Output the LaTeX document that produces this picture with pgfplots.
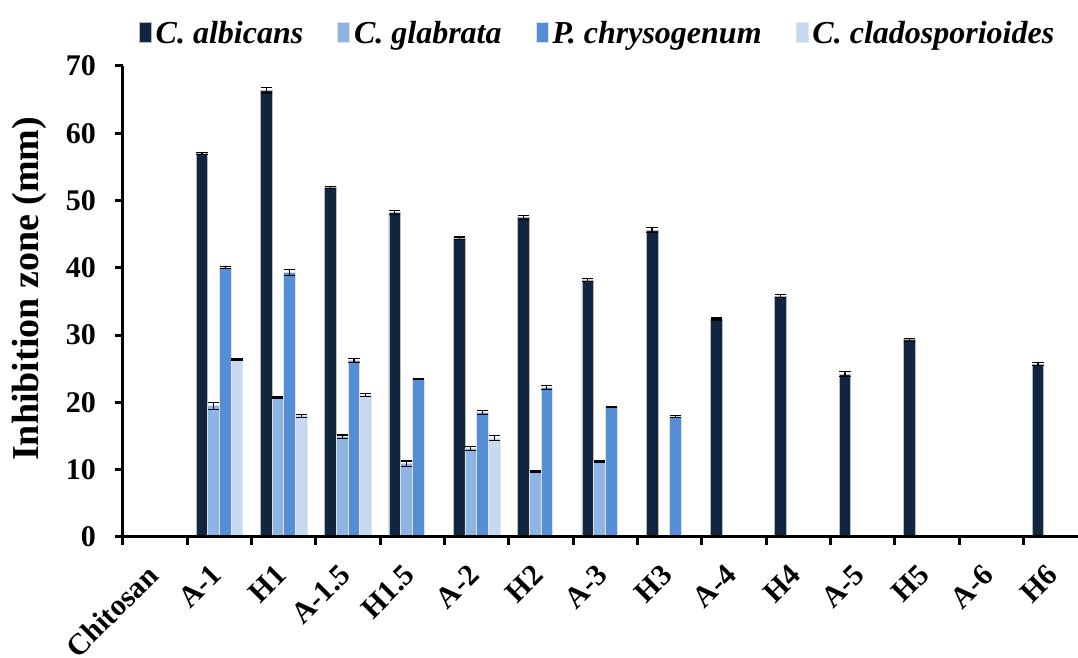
\documentclass[border=0pt]{standalone}
\usepackage{pgfplots}
\pgfplotsset{compat=1.18}
\usepackage{pgfplotstable}
\usepackage{fontspec}
\setmainfont{Liberation Serif}

\definecolor{calb}{HTML}{10253F}
\definecolor{cgla}{HTML}{8EB4E3}
\definecolor{cchr}{HTML}{558ED5}
\definecolor{ccla}{HTML}{C6D9F1}

% inhibition zone (mm) with standard deviation; category index 0 = Chitosan ... 14 = H6
\pgfplotstableread{
x  y     e
1  57.0  0.20
2  66.4  0.40
3  51.9  0.15
4  48.2  0.30
5  44.4  0.20
6  47.5  0.30
7  38.2  0.20
8  45.6  0.40
9  32.4  0.15
10 35.8  0.20
11 24.2  0.35
12 29.3  0.25
14 25.7  0.20
}\albicans
\pgfplotstableread{
x  y     e
1  19.5  0.50
2  20.7  0.10
3  14.9  0.25
4  10.9  0.40
5  13.2  0.30
6  9.7   0.10
7  11.2  0.10
}\glabrata
\pgfplotstableread{
x  y     e
1  40.1  0.15
2  39.3  0.40
3  26.2  0.30
4  23.5  0.10
5  18.5  0.25
6  22.2  0.30
7  19.3  0.10
8  17.9  0.10
}\chrysogenum
\pgfplotstableread{
x  y     e
1  26.4  0.10
2  18.0  0.25
3  21.1  0.25
5  14.7  0.35
}\cladosporioides

\begin{document}
\begin{tikzpicture}
\useasboundingbox (-61.5pt,-60.5pt) rectangle (477.5pt,268.5pt);
\begin{axis}[
  at={(0pt,0pt)}, anchor=south west,
  scale only axis, width=477.5pt, height=235.5pt,
  xmin=-0.5, xmax=14.35, ymin=0, ymax=70,
  axis on top,
  axis x line=bottom, axis y line=left,
  axis line style={-, black, line width=1.5pt},
  ybar=0pt, bar width=0.182,
  ytick={0,10,...,70},
  xtick={0,...,14},
  xticklabels={Chitosan, A-1, H1, A-1.5, H1.5, A-2, H2, A-3, H3, A-4, H4, A-5, H5, A-6, H6},
  minor xtick={-0.5,0.5,...,13.5},
  tick align=outside,
  major tick length=4pt, minor tick length=4pt,
  tick style={black, line width=1.5pt},
  major x tick style={draw=none},
  /pgf/number format/assume math mode=true,
  yticklabel style={font=\fontsize{15}{17}\selectfont\bfseries, xshift=-6pt},
  xticklabel style={font=\fontsize{15}{17}\selectfont\bfseries, xshift=-5pt, yshift=-4pt, rotate=45, anchor=north east},
  ylabel={Inhibition zone (mm)},
  every axis y label/.style={at={(axis description cs:-0.0984,0.527)}, rotate=90, anchor=center, font=\fontsize{19}{22}\selectfont\bfseries},
  error bars/y dir=both, error bars/y explicit,
  error bars/error bar style={black, line width=0.6pt},
  error bars/error mark options={rotate=90, black, mark size=2.8pt, line width=0.6pt},
  legend columns=4,
  legend style={at={(0.498,1.068)}, anchor=center, draw=none, fill=none,
    font=\fontsize{16}{19}\selectfont\bfseries\itshape,
    /tikz/every even column/.append style={column sep=15pt}},
  legend image code/.code={\fill[#1] (0pt,-4pt) rectangle (6pt,6pt);},
]
\addplot[fill=calb, draw=gray!55, line width=0.4pt] table[x=x, y=y, y error=e] {\albicans};
\addplot[fill=cgla, draw=gray!25, line width=0.4pt] table[x=x, y=y, y error=e] {\glabrata};
\addplot[fill=cchr, draw=gray!25, line width=0.4pt] table[x=x, y=y, y error=e] {\chrysogenum};
\addplot[fill=ccla, draw=gray!20, line width=0.4pt] table[x=x, y=y, y error=e] {\cladosporioides};
\legend{C. albicans, C. glabrata, P. chrysogenum, C. cladosporioides}
\end{axis}
\end{tikzpicture}
\end{document}
